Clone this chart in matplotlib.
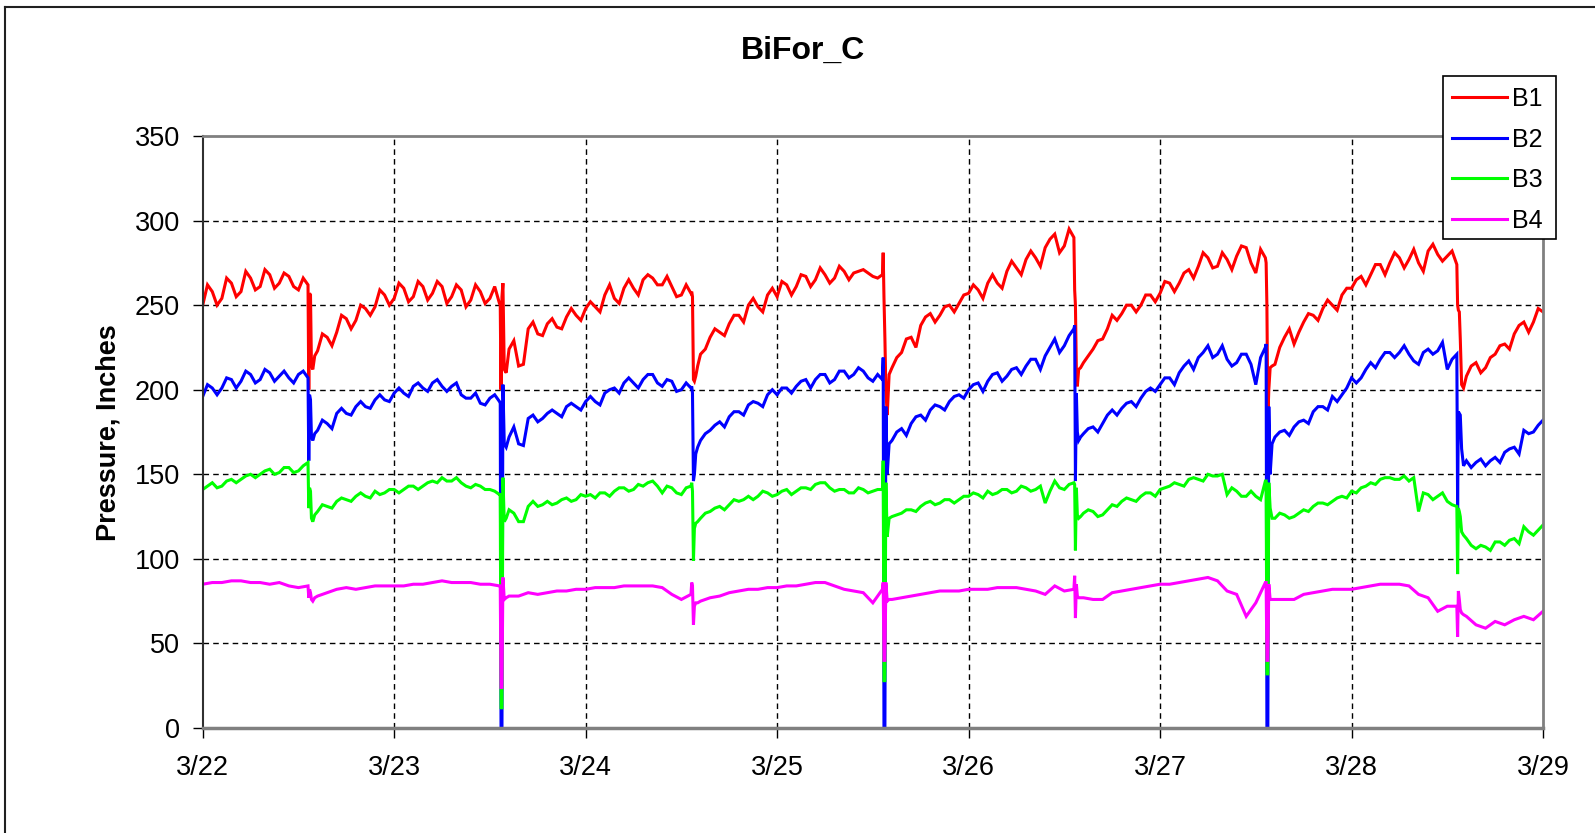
import numpy as np
import matplotlib
matplotlib.use("Agg")
import matplotlib.pyplot as plt
from matplotlib.lines import Line2D
from matplotlib.patches import Rectangle

# ---------------- data ----------------
TITLE = "BiFor_C"
Y_LABEL = "Pressure, Inches"
X_TICK_LABELS = ["3/22", "3/23", "3/24", "3/25", "3/26", "3/27", "3/28", "3/29"]
Y_TICKS = [0, 50, 100, 150, 200, 250, 300, 350]
SERIES_NAMES = ["B1", "B2", "B3", "B4"]
COLORS = ["#FF0000", "#0000FF", "#00FF00", "#FF00FF"]

GRID_STEP = 0.05  # days from 3/22 00:00 ; readings on the grid

B1 = [250, 258, 254, 263, 258, 266, 261, 268, 263, 267, 259, 262, 223, 231, 234, 242, 241, 248, 249, 256,
      254, 260, 255, 261, 257, 261, 255, 259, 253, 258, 254, 251, 224, 214, 236, 233, 239, 237, 243, 244,
      248, 249, 256, 254, 260, 260, 265, 266, 262, 261, 256, 257, 221, 231, 234, 239, 244, 250, 249, 256,
      255, 262, 261, 267, 265, 268, 266, 270, 269, 271, 267, 268, 213, 222, 231, 238, 245, 244, 250, 251,
      257, 259, 263, 263, 270, 272, 277, 278, 284, 292, 285, 290, 216, 224, 230, 244, 245, 250, 250, 256,
      257, 263, 263, 271, 273, 278, 273, 277, 279, 284, 269, 278, 215, 231, 227, 240, 244, 248, 250, 256,
      260, 267, 268, 274, 275, 278, 277, 275, 282, 280, 279, 274, 208, 216, 213, 221, 227, 233, 240, 240,
      246]
B2 = [196, 201, 201, 206, 205, 209, 206, 210, 208, 207, 209, 207, 176, 180, 186, 186, 190, 190, 194, 194,
      198, 198, 202, 201, 204, 202, 202, 197, 195, 192, 195, 193, 172, 168, 183, 181, 186, 186, 190, 190,
      193, 193, 198, 201, 204, 204, 206, 209, 202, 205, 200, 201, 170, 176, 181, 184, 187, 191, 192, 197,
      197, 201, 202, 206, 206, 209, 206, 211, 209, 211, 205, 206, 170, 177, 180, 185, 188, 190, 193, 197,
      200, 204, 205, 210, 208, 213, 214, 218, 220, 230, 226, 236, 174, 178, 180, 188, 189, 193, 195, 201,
      203, 207, 210, 217, 219, 226, 221, 218, 216, 221, 203, 225, 172, 176, 178, 182, 187, 190, 196, 197,
      207, 207, 216, 218, 222, 222, 221, 215, 224, 223, 212, 221, 158, 157, 155, 160, 163, 166, 176, 175,
      182]
B3 = [141, 145, 143, 147, 147, 150, 150, 153, 151, 154, 152, 157, 128, 131, 134, 135, 137, 137, 140, 139,
      141, 141, 143, 143, 146, 148, 146, 145, 142, 143, 141, 138, 129, 122, 131, 131, 134, 133, 136, 135,
      137, 136, 139, 140, 142, 141, 143, 146, 139, 142, 138, 143, 124, 128, 131, 132, 134, 137, 137, 139,
      138, 141, 140, 142, 144, 145, 140, 141, 139, 141, 140, 141, 125, 127, 129, 131, 134, 133, 135, 135,
      137, 138, 140, 139, 141, 140, 142, 141, 133, 146, 141, 145, 127, 128, 126, 132, 134, 135, 137, 139,
      141, 143, 144, 147, 147, 150, 149, 138, 140, 137, 137, 146, 124, 126, 125, 129, 131, 133, 134, 137,
      140, 142, 145, 147, 148, 147, 146, 128, 138, 137, 134, 131, 112, 106, 107, 110, 108, 112, 119, 114,
      120]
B4 = [85, 86, 86, 87, 87, 86, 86, 85, 86, 84, 83, 84, 78, 80, 82, 83, 82, 83, 84, 84,
      84, 84, 85, 85, 86, 87, 86, 86, 86, 85, 85, 84, 78, 78, 80, 79, 80, 81, 81, 82,
      82, 83, 83, 83, 84, 84, 84, 84, 83, 79, 76, 79, 75, 77, 78, 80, 81, 82, 82, 83,
      83, 84, 84, 85, 86, 86, 84, 82, 81, 80, 74, 82, 76, 77, 78, 79, 80, 81, 81, 81,
      82, 82, 82, 83, 83, 83, 82, 81, 79, 84, 81, 82, 77, 76, 76, 80, 81, 82, 83, 84,
      85, 85, 86, 87, 88, 89, 87, 81, 79, 66, 74, 86, 76, 76, 76, 79, 80, 81, 82, 82,
      82, 83, 84, 85, 85, 85, 84, 79, 77, 69, 72, 72, 66, 61, 59, 63, 61, 64, 66, 64,
      69]

# readings half-way between grid points (None = inside a pump-down event window)
B1_MID = [262, 250, 266, 255, 270, 259, 271, 260, 269, 261, 266, None, 233, 226, 244, 236, 250, 244, 259, 250,
          263, 252, 264, 253, 264, 251, 262, 249, 262, 251, 261, None, 229, 215, 240, 232, 242, 236, 248, 241,
          252, 246, 262, 251, 265, 256, 268, 262, 267, 255, 262, None, 224, 236, 232, 244, 240, 254, 246, 260,
          264, 256, 268, 261, 272, 263, 273, 265, 270, 269, 266, None, 219, 230, 225, 243, 240, 249, 246, 256,
          262, 254, 268, 260, 276, 268, 282, 273, 289, 281, 295, None, 220, 229, 236, 241, 250, 246, 256, 252,
          264, 258, 269, 266, 281, 272, 281, 271, 285, 275, 283, None, 225, 236, 234, 245, 241, 253, 247, 260,
          265, 262, 274, 268, 281, 272, 283, 270, 286, 276, 282, None, 214, 210, 219, 226, 224, 238, 234, 248]
B2_MID = [203, 197, 207, 201, 211, 204, 212, 205, 211, 204, 211, None, 182, 177, 189, 185, 193, 189, 197, 193,
          201, 196, 204, 199, 206, 199, 204, 195, 198, 191, 197, None, 178, 167, 185, 183, 188, 184, 192, 188,
          196, 191, 200, 198, 207, 201, 209, 204, 206, 199, 204, None, 174, 179, 178, 187, 185, 193, 190, 200,
          201, 198, 205, 201, 209, 204, 211, 207, 213, 207, 209, None, 175, 173, 184, 182, 191, 188, 196, 195,
          203, 199, 209, 205, 212, 209, 218, 212, 225, 222, 232, None, 177, 175, 185, 185, 192, 190, 199, 199,
          207, 203, 214, 212, 222, 219, 226, 214, 221, 215, 219, None, 175, 173, 181, 180, 190, 188, 193, 201,
          204, 212, 213, 222, 219, 226, 217, 222, 221, 228, 218, None, 154, 159, 158, 157, 165, 162, 174, 179]
B3_MID = [143, 142, 146, 145, 149, 148, 152, 150, 154, 151, 155, None, 132, 130, 136, 134, 139, 136, 138, 141,
          139, 143, 141, 145, 145, 146, 148, 143, 144, 141, 140, None, 127, 122, 134, 132, 132, 135, 134, 138,
          138, 139, 137, 142, 140, 144, 145, 143, 143, 139, 142, None, 127, 130, 129, 135, 135, 135, 140, 137,
          140, 138, 142, 141, 145, 142, 141, 139, 142, 139, 141, None, 126, 129, 128, 133, 132, 135, 133, 137,
          139, 136, 138, 141, 139, 143, 140, 143, 140, 142, 144, None, 129, 125, 129, 131, 136, 134, 139, 137,
          142, 145, 143, 148, 146, 149, 150, 142, 137, 140, 135, None, 127, 124, 127, 128, 133, 132, 136, 136,
          139, 143, 144, 148, 147, 149, 148, 139, 135, 139, 132, None, 108, 108, 105, 110, 111, 109, 116, 117]
B4_MID = None

# daily pump-down events (extra readings around each drop)
DROP_DAYS = [0, 1, 2, 3, 4, 5, 6]
DROP_TIMES = [0.554, 0.558, 0.563, 0.568, 0.575, 0.585]
B1_EV = [200, 257, 256, 214, 212, 220,
         250, 200, 255, 263, 212, 210,
         258, 255, 206, 205, 208, 214,
         281, 255, 230, 200, 185, 209,
         259, 250, 211, 202, 212, 213,
         275, 250, 183, 200, 213, 214,
         250, 247, 246, 230, 203, 201]
B2_EV = [158, 197, 194, 172, 170, 174,
         192, 0, 0, 203, 168, 166,
         202, 198, 146, 150, 162, 166,
         219, 0, 0, 190, 150, 168,
         238, 146, 198, 175, 170, 172,
         227, 0, 0, 190, 150, 168,
         130, 187, 186, 185, 165, 155]
B3_EV = [130, 142, 140, 124, 122, 126,
         138, 12, 12, 148, 122, 124,
         145, 140, 99, 118, 121, 122,
         158, 28, 28, 145, 113, 124,
         144, 105, 142, 126, 124, 125,
         146, 32, 32, 145, 130, 124,
         91, 130, 128, 125, 116, 114]
B4_EV = [77, 82, 80, 76, 75, 77,
         84, 24, 24, 89, 76, 77,
         86, 84, 61, 72, 74, 74,
         86, 40, 40, 86, 75, 76,
         90, 65, 85, 78, 77, 77,
         86, 40, 40, 85, 76, 76,
         54, 81, 76, 70, 68, 67]

# ---------------- figure ----------------
W, H = 1595, 833
fig = plt.figure(figsize=(W / 100, H / 100), dpi=100)
plt.rcParams['font.family'] = ['Liberation Sans', 'DejaVu Sans']

ax_left, ax_right, ax_top, ax_bottom = 202.7, 1543.0, 136.0, 728.0
ax = fig.add_axes([ax_left / W, 1 - ax_bottom / H, (ax_right - ax_left) / W, (ax_bottom - ax_top) / H])

t_grid = np.arange(len(B1)) * GRID_STEP
t_mid = t_grid[:-1] + GRID_STEP / 2
t_ev = np.array([d + o for d in DROP_DAYS for o in DROP_TIMES])

LW = 2.2
for name, grid_vals, mid_vals, ev_vals, col in zip(
        SERIES_NAMES, [B1, B2, B3, B4], [B1_MID, B2_MID, B3_MID, B4_MID],
        [B1_EV, B2_EV, B3_EV, B4_EV], COLORS):
    ts = [t_grid, t_ev]
    vs = [np.array(grid_vals, float), np.array(ev_vals, float)]
    if mid_vals is not None:
        mv = np.array([np.nan if v is None else v for v in mid_vals], float)
        keep = ~np.isnan(mv)
        ts.append(t_mid[keep])
        vs.append(mv[keep])
    t_all = np.concatenate(ts)
    v_all = np.concatenate(vs)
    order = np.argsort(t_all, kind="stable")
    ax.plot(t_all[order], v_all[order], color=col, lw=LW, solid_joinstyle="miter", label=name)

ax.set_xlim(0, 7)
ax.set_ylim(0, 350)
ax.set_xticks(range(len(X_TICK_LABELS)))
ax.set_xticklabels(X_TICK_LABELS)
ax.set_yticks(Y_TICKS)
ax.tick_params(axis="both", direction="out", length=7, width=1, colors="black", labelsize=19.5)
ax.tick_params(axis="x", pad=12.5)
ax.tick_params(axis="y", pad=9.5)

for y in Y_TICKS[1:-1]:
    ax.axhline(y, color="black", lw=1, ls=(0, (4, 3)), zorder=0.5)
for x in range(1, 7):
    ax.axvline(x, color="black", lw=1, ls=(0, (4, 3)), zorder=0.5)

ax.spines["left"].set_color("#303030")
ax.spines["left"].set_linewidth(1.5)
ax.spines["bottom"].set_color("#808080")
ax.spines["bottom"].set_linewidth(2.5)
ax.spines["top"].set_color("#808080")
ax.spines["top"].set_linewidth(2)
ax.spines["right"].set_color("#808080")
ax.spines["right"].set_linewidth(2)

fig.text(803 / W, 1 - 51 / H, TITLE, ha="center", va="center", fontsize=23, fontweight="bold")
fig.text(109 / W, 1 - 433 / H, Y_LABEL, ha="center", va="center", rotation=90, fontsize=19.5, fontweight="bold")

# outer chart border
fig.add_artist(Line2D([5 / W, 1], [1 - 7 / H, 1 - 7 / H], transform=fig.transFigure, color="#202020", lw=1.5))
fig.add_artist(Line2D([5 / W, 5 / W], [0, 1 - 7 / H], transform=fig.transFigure, color="#202020", lw=1.5))

# legend
lx0, lx1, ly0, ly1 = 1442.7, 1555.7, 76.0, 239.0
fig.add_artist(Rectangle((lx0 / W, 1 - ly1 / H), (lx1 - lx0) / W, (ly1 - ly0) / H,
                         transform=fig.transFigure, facecolor="white", edgecolor="black", lw=1.2, zorder=5))
rows = [97.3, 137.7, 178.0, 218.7]
for name, col, ry in zip(SERIES_NAMES, COLORS, rows):
    fig.add_artist(Line2D([1452 / W, 1507 / W], [1 - ry / H, 1 - ry / H], transform=fig.transFigure,
                          color=col, lw=LW, zorder=6))
    fig.text(1512.5 / W, 1 - (ry + 9.2) / H, name, ha="left", va="baseline", fontsize=18, zorder=7)

fig.savefig("out.png", dpi=100)
